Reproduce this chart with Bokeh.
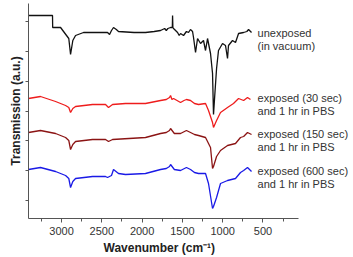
from bokeh.plotting import figure
from bokeh.models import Range1d, FixedTicker, Label, Title
from bokeh.embed import file_html
from bokeh.resources import INLINE

# FTIR spectra (wavenumber in cm^-1, transmission in arbitrary units, traces offset)
wn_unexposed = [3410, 3112, 3110, 3012, 2938, 2910, 2888, 2860, 2826, 2727, 2600, 2429,
                2404, 2380, 2355, 2320, 2293, 2100, 1958, 1850, 1771, 1720, 1700, 1680,
                1647, 1625, 1622, 1618, 1610, 1560, 1540, 1523, 1486, 1450, 1424, 1400,
                1374, 1362, 1337, 1312, 1275, 1238, 1213, 1188, 1151, 1126, 1114, 1101,
                1076, 1052, 1002, 965, 940, 928, 878, 841, 803, 741, 700, 679, 642]
tr_unexposed = [203, 203, 191, 191, 183, 180, 164, 178, 183, 186, 186, 186,
                184, 188, 191, 189, 187, 186, 186, 187, 188, 190, 188, 190,
                191, 191, 203, 191, 190, 186, 183, 185, 183, 187, 186, 189,
                187, 181, 166, 180, 175, 178, 168, 180, 165, 145, 104, 120,
                150, 168, 175, 173, 160, 173, 178, 176, 185, 186, 187, 189, 186]

wn_30s = [3410, 3261, 3074, 2950, 2910, 2888, 2860, 2826, 2615, 2454, 2417, 2367,
          2206, 1958, 1771, 1700, 1660, 1647, 1630, 1610, 1523, 1480, 1450, 1399,
          1350, 1300, 1213, 1176, 1126, 1114, 1076, 1027, 940, 866, 803, 740, 692, 655]
tr_30s = [120, 122, 117, 113, 111, 106, 110, 112, 114, 114, 111, 114,
          115, 115, 118, 119, 121, 123, 119, 120, 116, 118, 119, 118,
          115, 114, 115, 108, 96, 91, 98, 106, 111, 115, 120, 118, 121, 119]

wn_150s = [3410, 3261, 3074, 2950, 2910, 2888, 2860, 2826, 2615, 2454, 2417, 2367,
           1958, 1771, 1700, 1660, 1647, 1600, 1523, 1450, 1399, 1350, 1300, 1213,
           1151, 1126, 1114, 1076, 1027, 940, 841, 779, 740, 692, 642]
tr_150s = [86, 88, 85, 81, 78, 69, 74, 77, 79, 79, 77, 79,
           81, 85, 86, 88, 90, 85, 85, 88, 86, 84, 83, 81,
           71, 50, 52, 62, 68, 73, 75, 81, 82, 86, 84]

wn_600s = [3410, 3261, 3074, 2950, 2910, 2888, 2860, 2826, 2615, 2454, 2429, 2380,
           2355, 2293, 2206, 1958, 1771, 1700, 1660, 1647, 1600, 1523, 1450, 1399,
           1350, 1300, 1213, 1176, 1126, 1114, 1076, 1027, 940, 841, 779, 740, 692, 642]
tr_600s = [49, 51, 47, 43, 40, 31, 37, 40, 42, 42, 41, 43,
           49, 45, 44, 45, 49, 50, 52, 54, 49, 48, 51, 49,
           46, 45, 45, 35, 10, 12, 21, 35, 38, 40, 46, 48, 51, 47]

series_labels = [("unexposed", "(in vacuum)"),
                 ("exposed (30 sec)", "and 1 hr in PBS"),
                 ("exposed (150 sec)", "and 1 hr in PBS"),
                 ("exposed (600 sec)", "and 1 hr in PBS")]
label_levels = [186, 121, 85, 48]

x_ticks = [3000, 2500, 2000, 1500, 1000, 500]
x_minor = [3250, 2750, 2250, 1750, 1250, 750, 250]
y_ticks = [18, 47.8, 77.6, 107.5, 137.3, 167.2, 197]

colors = ["#111111", "#ee1c1c", "#8b1414", "#1a1ae6"]

# the frame runs to the right edge so the series labels have room;
# the bottom axis itself stops at 59 cm^-1
p = figure(width=353, height=257, output_backend="svg", toolbar_location=None,
           x_range=Range1d(3410, -611), y_range=Range1d(0, 215),
           min_border_left=28, min_border_right=1, min_border_top=3,
           min_border_bottom=39)
p.outline_line_color = None
p.xgrid.visible = False
p.ygrid.visible = False
p.background_fill_color = "white"

series = [(wn_unexposed, tr_unexposed), (wn_30s, tr_30s),
          (wn_150s, tr_150s), (wn_600s, tr_600s)]
for (xs, ys), c in zip(series, colors):
    p.line(xs, ys, line_color=c, line_width=1.3)

font = "Liberation Sans"
ax = p.xaxis[0]
ax.bounds = (59, 3410)
ax.ticker = FixedTicker(ticks=x_ticks, minor_ticks=x_minor)
ax.major_label_text_font = font
ax.major_label_text_font_size = "11px"
ax.major_label_text_color = "#333333"
ax.major_label_standoff = 4
ax.major_tick_in = 0
ax.major_tick_out = 4
ax.minor_tick_in = 0
ax.minor_tick_out = 3
ax.axis_line_color = "#555555"
ax.major_tick_line_color = "#555555"
ax.minor_tick_line_color = "#555555"

# x-axis title centred under the drawn part of the axis
p.add_layout(Title(text="Wavenumber (cm⁻¹)", align="left", offset=75,
                   text_font=font, text_font_style="bold",
                   text_font_size="12px", text_color="#222222", standoff=2),
             "below")

ay = p.yaxis[0]
ay.ticker = FixedTicker(ticks=y_ticks)
ay.major_label_overrides = {t: "" for t in y_ticks}
ay.major_label_standoff = 0
ay.axis_label = "Transmission (a.u.)"
ay.axis_label_text_font = font
ay.axis_label_text_font_style = "bold"
ay.axis_label_text_font_size = "12px"
ay.axis_label_text_color = "#222222"
ay.axis_label_standoff = 3
ay.major_tick_in = 0
ay.major_tick_out = 3
ay.minor_tick_line_color = None
ay.axis_line_color = "#555555"
ay.major_tick_line_color = "#555555"

for (l1, l2), yv in zip(series_labels, label_levels):
    for txt, dy in ((l1, 0), (l2, -13)):
        p.add_layout(Label(x=567, y=yv + dy, text=txt, text_font=font,
                           text_font_size="11px", text_color="#333333",
                           text_baseline="middle", text_align="left"))

open("out.html", "w").write(file_html(p, INLINE))
